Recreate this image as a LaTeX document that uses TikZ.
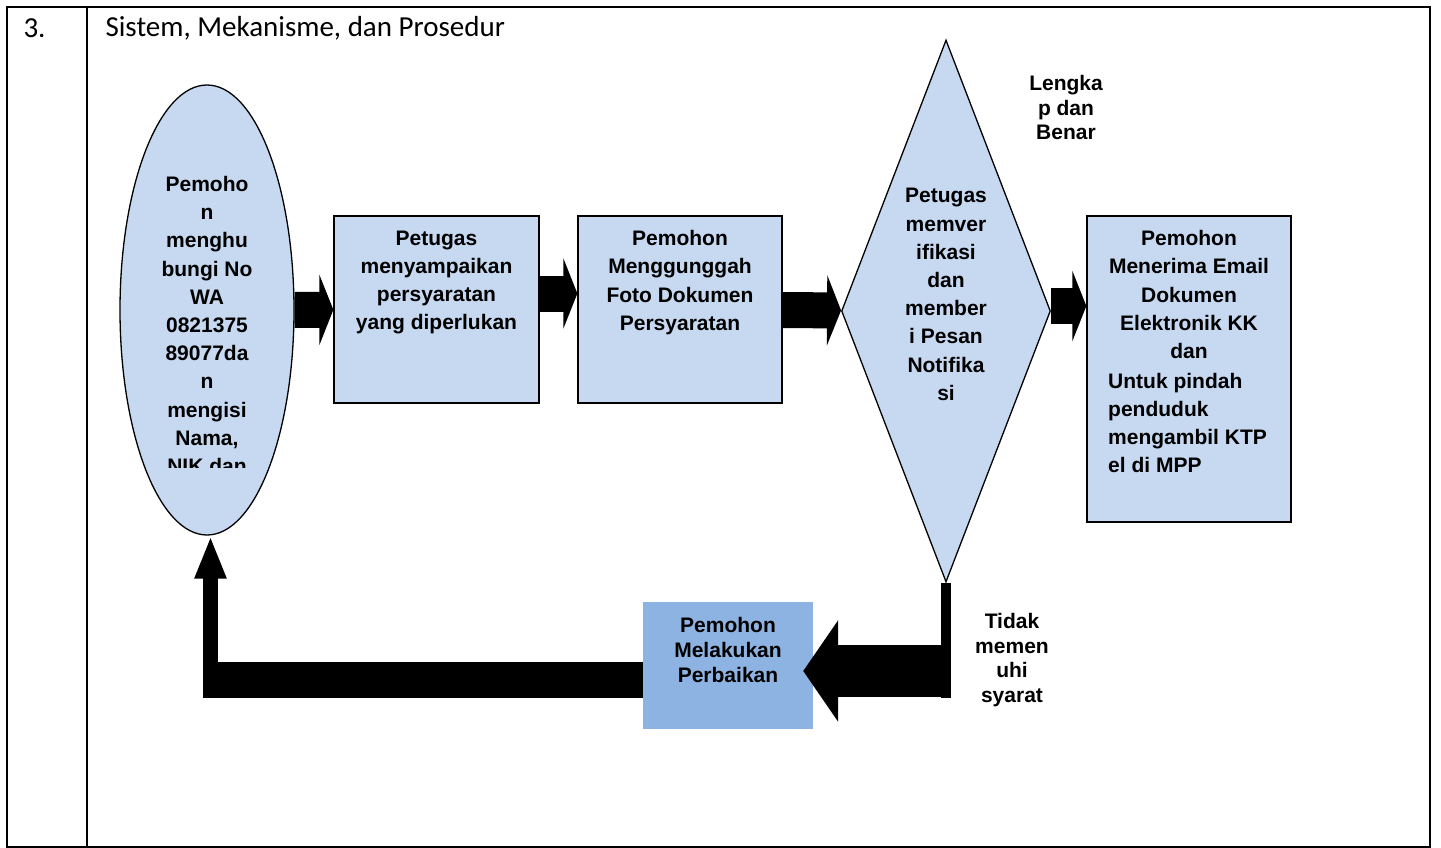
\documentclass[tikz,border=0pt]{standalone}
\usepackage{fontspec}
\setmainfont{Liberation Sans}
\newfontfamily\tblfont{Carlito}
\usepackage{tikz}
\usetikzlibrary{shapes}
\usetikzlibrary{arrows.meta}
\usetikzlibrary{positioning}
\usetikzlibrary{calc}
\definecolor{procfill}{HTML}{C6D9F1}
\definecolor{fixfill}{HTML}{8DB3E2}

\begin{document}
\begin{tikzpicture}[
  x=1pt,y=-1pt,
  proc/.style 2 args={
    rectangle,
    draw=black,
    line width=1.3pt,
    fill=procfill,
    minimum width=#1,
    minimum height=#2,
    inner sep=0pt},
  lbl/.style={
    font=\bfseries\fontsize{21}{28.2}\selectfont,
    align=center,
    inner sep=0pt},
  lbs/.style={
    font=\bfseries\fontsize{21}{24.8}\selectfont,
    align=center,
    inner sep=0pt},
  blk/.style={
    line width=36pt,
    -{Triangle[length=14pt,width=70pt]}},
  big/.style={
    line width=52pt,
    -{Triangle[length=35pt,width=100pt]}},
]

  \useasboundingbox (0,0) rectangle (1441,848);

    % table frame
    \draw[line width=1.6pt] (7,7) rectangle (1430,847);
    \draw[line width=1.6pt] (87,7) -- (87,847);
    \node[anchor=west,font=\tblfont\fontsize{29}{34}\selectfont] (nomor)
        at (20,28) {3.};
    \node[anchor=west,font=\tblfont\fontsize{29}{34}\selectfont] (judul)
        at (102,28) {Sistem, Mekanisme, dan Prosedur};

    % process shapes
    \node[ellipse,draw=black,line width=1.3pt,fill=procfill,
        minimum width=174pt,minimum height=450pt,inner sep=0pt] (pemohon)
        at (207,310) {};
    \begin{scope}
        \clip (110,150) rectangle (310,467);
        \node[lbl] at (207,325)
            {Pemoho\\n\\menghu\\bungi No\\WA\\0821375\\89077da\\n\\mengisi\\Nama,\\NIK dan};
    \end{scope}

    \node[proc={205pt}{187pt}] (syarat) at (436.5,309.5) {};
    \node[lbl] at (436.5,282.5)
        {Petugas\\menyampaikan\\persyaratan\\yang diperlukan};

    \node[proc={204pt}{187pt}] (unggah) at (680,309.5) {};
    \node[lbl] at (680,282.5)
        {Pemohon\\Menggunggah\\Foto Dokumen\\Persyaratan};

    \node[diamond,draw=black,line width=1.3pt,fill=procfill,aspect=0.3,
        minimum width=209pt,minimum height=542pt,inner sep=0pt] (verif)
        at (946,311) {};
    \node[lbl] at (946,294.5)
        {Petugas\\memver\\ifikasi\\dan\\member\\i Pesan\\Notifika\\si};

    \node[proc={204pt}{306pt}] (terima) at (1189,369) {};
    \node[lbl] at (1189,294.5)
        {Pemohon\\Menerima Email\\Dokumen\\Elektronik KK\\dan};
    \node[lbl,align=left,anchor=west] at (1108,423)
        {Untuk pindah\\penduduk\\mengambil KTP\\el di MPP};

    \node[rectangle,fill=fixfill,minimum width=170pt,minimum height=127pt]
        (perbaikan) at (728,665.5) {};
    \node[lbs] at (728,650)
        {Pemohon\\Melakukan\\Perbaikan};

    % decision labels
    \node[lbs] (lengkap) at (1066,107.5) {Lengka\\p dan\\Benar};
    \node[lbs] (tidak) at (1012,660) {Tidak\\memen\\uhi\\syarat};

    % forward arrows
    \foreach \from/\to in {pemohon/syarat,unggah/verif} {
        \draw[blk] (\from) -- (\to);
    }
    \draw[blk] ([yshift=16pt]syarat.east) -- ([yshift=16pt]unggah.west);
    \draw[blk] ([yshift=5pt]verif.east) -- ([yshift=5pt]verif.east -| terima.west);

    % return loop
    \coordinate (tb) at (946,698);
    \coordinate (ta) at (951,671);
    \coordinate (la) at (203,680);
    \coordinate (lb) at (210.5,698);
    \draw[line width=10pt] (verif.south) -- (tb);
    \draw[big,shorten >=-10pt] (ta) -- (ta -| perbaikan.east);
    \draw[line width=36pt] (perbaikan.west |- la) -- (la);
    \draw[line width=15pt,-{Triangle[length=43pt,width=29pt]}]
        (lb) -- (lb |- pemohon.south);

\end{tikzpicture}
\end{document}
